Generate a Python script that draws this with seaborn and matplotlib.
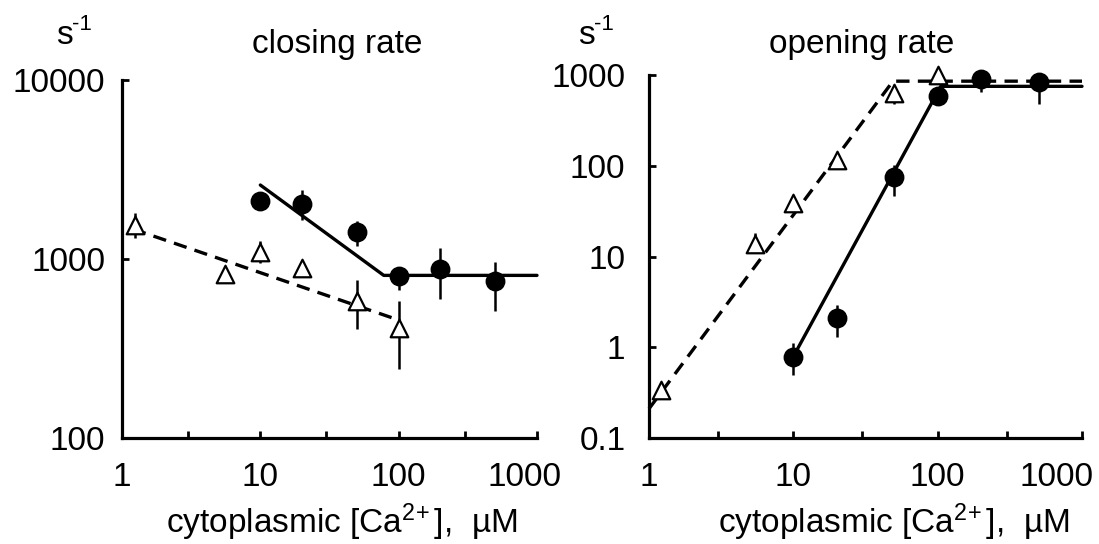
import numpy as np
import pandas as pd
import matplotlib
matplotlib.use("Agg")
import matplotlib.pyplot as plt
import matplotlib.transforms as mtransforms
import seaborn as sns
from matplotlib.ticker import FixedLocator, NullFormatter

# ---- data (Ca2+ in uM, rates in s^-1) ----
# closing rate
close_tri_x = [1.24, 5.6, 10, 20, 50, 100]
close_tri_y = [1550, 825, 1100, 890, 580, 413]
close_tri_lo = [1316, 825, 950, 890, 406, 243]
close_tri_hi = [1807, 825, 1260, 890, 766, 584]

close_dot_x = [10, 20, 50, 100, 200, 500]
close_dot_y = [2100, 2040, 1415, 800, 877, 750]
close_dot_lo = [2100, 1650, 1180, 675, 597, 515]
close_dot_hi = [2100, 2430, 1630, 900, 1150, 960]

close_fit_solid_x = [10, 78, 1000]
close_fit_solid_y = [2590, 810, 810]
close_fit_dash_x = [1.2, 100]
close_fit_dash_y = [1470, 456]

# opening rate
open_tri_x = [1.22, 5.4, 10, 20, 50, 100]
open_tri_y = [0.34, 13.9, 39, 115, 635, 990]
open_tri_lo = [0.28, 10.9, 33, 115, 480, 990]
open_tri_hi = [0.40, 18, 45, 115, 716, 990]

open_dot_x = [10, 20, 50, 100, 200, 500]
open_dot_y = [0.79, 2.1, 76, 585, 915, 830]
open_dot_lo = [0.49, 1.31, 46, 585, 655, 480]
open_dot_hi = [1.1, 2.95, 103, 585, 1025, 1025]

open_fit_solid_x = [10, 105, 1000]
open_fit_solid_y = [0.79, 750, 750]
open_fit_dash_x = [1, 49, 1000]
open_fit_dash_y = [0.21, 855, 855]

x_ticks = [1, 10, 100, 1000]
x_tick_labels = ["1", "10", "100", "1000"]
close_y_ticks = [100, 1000, 10000]
close_y_labels = ["100", "1000", "10000"]
open_y_ticks = [0.1, 1, 10, 100, 1000]
open_y_labels = ["0.1", "1", "10", "100", "1000"]

sns.set_theme(style="ticks")
plt.rcParams["font.family"] = ["Liberation Sans", "DejaVu Sans"]
plt.rcParams["mathtext.fontset"] = "custom"
plt.rcParams["mathtext.rm"] = "Liberation Sans"
plt.rcParams["mathtext.it"] = "Liberation Sans:italic"
plt.rcParams["text.color"] = "black"

W, H = 1099, 544
fig = plt.figure(figsize=(10.99, 5.44), dpi=100)
ax1 = fig.add_axes([122 / W, 1 - 438 / H, (537 - 122) / W, (438 - 80) / H])
ax2 = fig.add_axes([649 / W, 1 - 438 / H, (1082 - 649) / W, (438 - 75) / H])

FS = 24


def draw_panel(ax, tri_x, tri_y, tri_lo, tri_hi, dot_x, dot_y, dot_lo, dot_hi,
               sx, sy, dx, dy, ylim, yticks, ylabels, ypad, last_shift):
    ax.set_xscale("log")
    ax.set_yscale("log")

    # fitted lines
    sns.lineplot(x=sx, y=sy, ax=ax, color="black", lw=2.4, sort=False,
                 estimator=None, clip_on=False)
    sns.lineplot(x=dx, y=dy, ax=ax, color="black", lw=2.4, sort=False,
                 estimator=None, clip_on=False, linestyle=(0, (4, 2.5)))

    # error bars
    ax.vlines(tri_x, tri_lo, tri_hi, color="black", lw=1.8, zorder=3)
    ax.vlines(dot_x, dot_lo, dot_hi, color="black", lw=1.8, zorder=3)

    # points
    sns.scatterplot(x=dot_x, y=dot_y, ax=ax, marker="o", s=175,
                    color="black", edgecolor="black", zorder=4, clip_on=False)
    sns.scatterplot(x=tri_x, y=tri_y, ax=ax, marker="^", s=160,
                    facecolor="white", edgecolor="black", linewidth=1.6,
                    zorder=5, clip_on=False)

    ax.set_xlim(1, 1000)
    ax.set_ylim(*ylim)
    ax.xaxis.set_major_locator(FixedLocator(x_ticks))
    ax.set_xticklabels(x_tick_labels)
    ax.xaxis.set_minor_locator(FixedLocator([3, 30, 300]))
    ax.xaxis.set_minor_formatter(NullFormatter())
    ax.yaxis.set_major_locator(FixedLocator(yticks))
    ax.set_yticklabels(ylabels)
    ax.yaxis.set_minor_locator(FixedLocator([]))

    sns.despine(ax=ax)
    for s in ["left", "bottom"]:
        ax.spines[s].set_linewidth(2.3)
        ax.spines[s].set_color("black")
    ax.tick_params(which="both", direction="in", length=5, width=2,
                   labelsize=FS, colors="black")
    ax.tick_params(axis="x", pad=17)
    ax.tick_params(axis="y", pad=ypad)

    # the last x label sits a bit left of its tick, as in the original
    lab = ax.get_xticklabels()[-1]
    lab.set_transform(lab.get_transform() +
                      mtransforms.ScaledTranslation(last_shift / 100, 0,
                                                    fig.dpi_scale_trans))


draw_panel(ax1, close_tri_x, close_tri_y, close_tri_lo, close_tri_hi,
           close_dot_x, close_dot_y, close_dot_lo, close_dot_hi,
           close_fit_solid_x, close_fit_solid_y, close_fit_dash_x, close_fit_dash_y,
           (100, 10000), close_y_ticks, close_y_labels, 12, -12)
draw_panel(ax2, open_tri_x, open_tri_y, open_tri_lo, open_tri_hi,
           open_dot_x, open_dot_y, open_dot_lo, open_dot_hi,
           open_fit_solid_x, open_fit_solid_y, open_fit_dash_x, open_fit_dash_y,
           (0.1, 1000), open_y_ticks, open_y_labels, 17, -25)

xlab = r"cytoplasmic [Ca$^{2\!+}$],  µM"
fig.text(342 / W, 1 - 533 / H, xlab, fontsize=FS, ha="center", va="baseline")
fig.text(894 / W, 1 - 533 / H, xlab, fontsize=FS, ha="center", va="baseline")

fig.text(337 / W, 1 - 53 / H, "closing rate", fontsize=FS, ha="center", va="baseline")
fig.text(862 / W, 1 - 53 / H, "opening rate", fontsize=FS, ha="center", va="baseline")

# s^-1 unit labels (hyphen style superscript)
for sx in (56, 578):
    fig.text(sx / W, 1 - 44 / H, "s", fontsize=FS, ha="left", va="baseline")
    fig.text((sx + 16) / W, 1 - 30 / H, "-1", fontsize=16, ha="left", va="baseline")

fig.savefig("out.png", dpi=100, facecolor="white")
